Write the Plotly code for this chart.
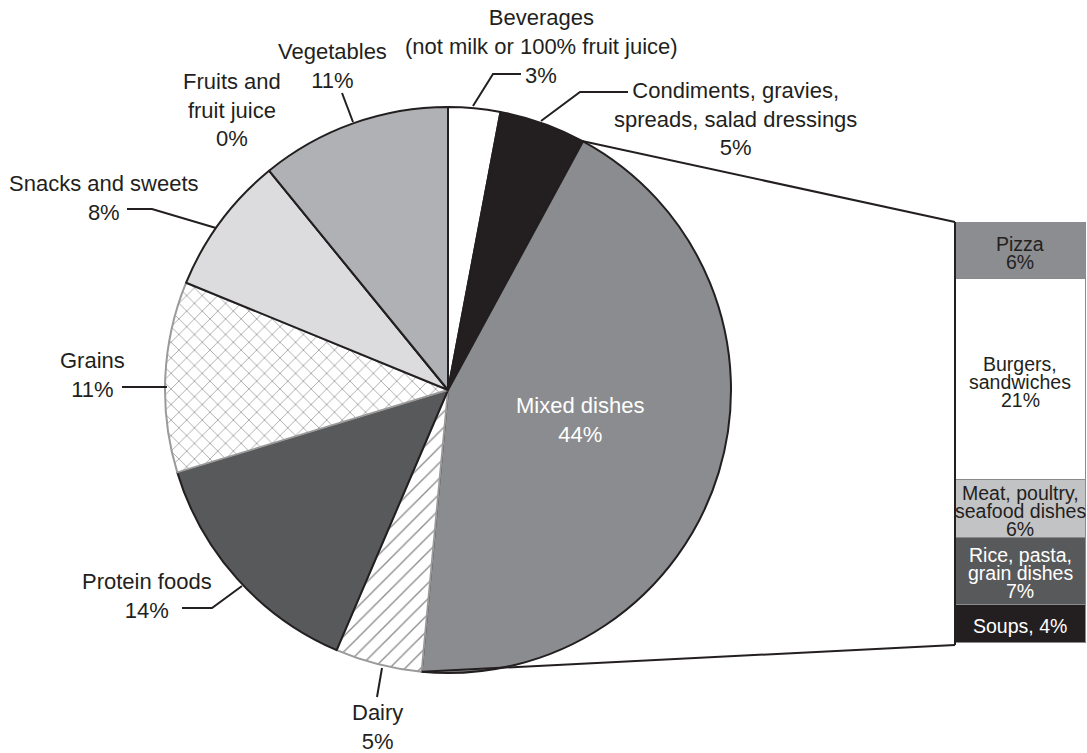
import math
import plotly.graph_objects as go

W, H = 1087, 753

# ---------------- data ----------------
pie_labels = ["Beverages (not milk or 100% fruit juice)",
              "Condiments, gravies, spreads, salad dressings",
              "Mixed dishes", "Dairy", "Protein foods", "Grains",
              "Snacks and sweets", "Fruits and fruit juice", "Vegetables"]
pie_values = [3, 5, 44, 5, 14, 11, 8, 0, 11]
pie_colors = ["#ffffff", "#231f20", "#8b8c8f", "#ffffff", "#58595b",
              "#ffffff", "#dcdcde", "#ffffff", "#b0b1b4"]
pie_patterns = ["", "", "", "/", "", "x", "", "", ""]
pie_edge = ["#231f20", "#231f20", "#231f20", "#9a9a9a", "#231f20",
            "#9a9a9a", "#231f20", "#231f20", "#231f20"]

bar_labels = ["Pizza", "Burgers, sandwiches", "Meat, poultry, seafood dishes",
              "Rice, pasta, grain dishes", "Soups"]
bar_values = [6, 21, 6, 7, 4]
bar_colors = ["#8c8d90", "#ffffff", "#c2c3c5", "#58595b", "#231f20"]
bar_text_lines = [["Pizza", "6%"], ["Burgers,", "sandwiches", "21%"],
                  ["Meat, poultry,", "seafood dishes", "6%"],
                  ["Rice, pasta,", "grain dishes", "7%"], ["Soups, 4%"]]
bar_text_colors = ["#231f20", "#231f20", "#231f20", "#ffffff", "#ffffff"]

FONT = "Liberation Sans, Arial, sans-serif"
TXT = "#231f20"


def px(x):
    return x / W


def py(y):
    return 1 - y / H


# pie geometry (pixels)
CX, CY, R = 448, 390, 283
pie_dom_x = [px(CX - R), px(CX + R)]
pie_dom_y = [py(CY + R), py(CY - R)]

# bar geometry
bar_left, bar_top, bar_bot = 955, 222, 643
bar_dom_x = [px(bar_left), 1.0]
bar_dom_y = [py(bar_bot), py(bar_top)]

fig = go.Figure()

fig.add_trace(go.Pie(
    labels=pie_labels, values=pie_values, sort=False, direction="clockwise",
    rotation=0, textinfo="none", hoverinfo="label+value",
    domain=dict(x=pie_dom_x, y=pie_dom_y), showlegend=False,
    marker=dict(colors=pie_colors,
                line=dict(color=pie_edge, width=2),
                pattern=dict(shape=pie_patterns, fgcolor="#8a8a8a",
                             bgcolor="#ffffff", size=11, solidity=0.12)),
))

# stacked bar: bottom to top
for lab, val, col in list(zip(bar_labels, bar_values, bar_colors))[::-1]:
    fig.add_trace(go.Bar(
        x=[0], y=[val], name=lab, marker=dict(color=col, line=dict(color="#8a8a8a", width=1)),
        width=1, showlegend=False, xaxis="x", yaxis="y", hoverinfo="name+y"))

total = sum(bar_values)
annotations = []
# bar labels
cum = total
for lines, val, tc in zip(bar_text_lines, bar_values, bar_text_colors):
    mid = cum - val / 2
    cum -= val
    n = len(lines)
    for i, t in enumerate(lines):
        annotations.append(dict(
            x=0.0, y=mid, xref="x", yref="y", text=t, showarrow=False,
            xanchor="center", yanchor="middle",
            yshift=((n - 1) / 2 - i) * 18 - 2,
            font=dict(family=FONT, size=19.5, color=tc)))

# pie labels (pixel positions of text blocks)
pie_text = [
    ("Beverages<br>(not milk or 100% fruit juice)", 541, 32, "center"),
    ("3%", 523, 75, "left"),
    ("Condiments, gravies,<br>spreads, salad dressings<br>5%", 735, 119, "center"),
    ("Vegetables<br>11%", 332, 66, "center"),
    ("Fruits and<br>fruit juice<br>0%", 232, 110, "center"),
    ("Snacks and sweets<br>8%", 104, 198, "center"),
    ("Grains<br>11%", 92, 375, "center"),
    ("Protein foods<br>14%", 147, 596, "center"),
    ("Dairy<br>5%", 377, 727, "center"),
]
for t, x, y, anc in pie_text:
    annotations.append(dict(
        x=px(x), y=py(y), xref="paper", yref="paper", text=t, showarrow=False,
        xanchor=anc, yanchor="middle", align="center",
        font=dict(family=FONT, size=22, color=TXT)))

annotations.append(dict(
    x=px(580), y=py(420), xref="paper", yref="paper", text="Mixed dishes<br>44%",
    showarrow=False, xanchor="center", yanchor="middle", align="center",
    font=dict(family=FONT, size=22, color="#ffffff")))

# leader lines (pixel paths)
leaders = [
    [(473, 106), (493, 74), (521, 74)],
    [(541, 121), (580, 92), (628, 92)],
    [(342, 93), (353, 122)],
    [(127, 209), (152, 209), (216, 228)],
    [(122, 387), (167, 387)],
    [(182, 608), (212, 608), (242, 586)],
    [(377, 697), (382, 668)],
]
shapes = []
for pts in leaders:
    d = "M " + " L ".join(f"{px(x):.5f},{py(y):.5f}" for x, y in pts)
    shapes.append(dict(type="path", path=d, xref="paper", yref="paper",
                       line=dict(color=TXT, width=2)))

# connector lines from Mixed dishes slice to the bar
tot_pie = sum(pie_values)
start = sum(pie_values[:2]) / tot_pie * 2 * math.pi
end = sum(pie_values[:3]) / tot_pie * 2 * math.pi
p1 = (CX + R * math.sin(start), CY - R * math.cos(start))
p2 = (CX + R * math.sin(end), CY - R * math.cos(end))
for (x0, y0), (x1, y1) in [(p1, (bar_left, bar_top)), (p2, (bar_left, bar_bot + 2))]:
    shapes.append(dict(type="line", x0=px(x0), y0=py(y0), x1=px(x1), y1=py(y1),
                       xref="paper", yref="paper", line=dict(color=TXT, width=2)))
shapes.append(dict(type="line", x0=px(bar_left), x1=px(bar_left), y0=py(bar_top), y1=py(bar_bot + 2),
                   xref="paper", yref="paper", line=dict(color=TXT, width=2)))

fig.update_layout(
    width=W, height=H, margin=dict(l=0, r=0, t=0, b=0),
    paper_bgcolor="#ffffff", plot_bgcolor="#ffffff",
    barmode="stack", bargap=0,
    xaxis=dict(domain=bar_dom_x, range=[-0.5, 0.51], visible=False, fixedrange=True),
    yaxis=dict(domain=bar_dom_y, range=[0, total], visible=False, fixedrange=True),
    annotations=annotations, shapes=shapes,
)

fig.write_html("out.html", config={"displayModeBar": False},
               post_script="document.body.style.margin='0';document.body.style.overflow='hidden';")
